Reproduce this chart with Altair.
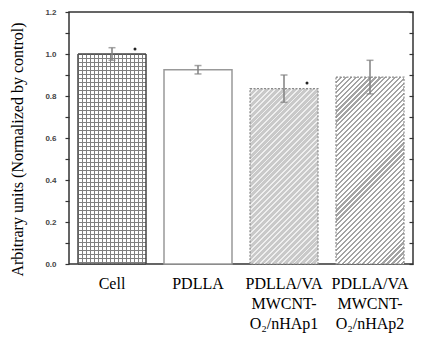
import math
import altair as alt
import pandas as pd

# ---- data ----
categories = ["Cell", "PDLLA", "PDLLA/VA|MWCNT-|O₂/nHAp1", "PDLLA/VA|MWCNT-|O₂/nHAp2"]
values = [1.0, 0.925, 0.835, 0.89]
errors = [0.03, 0.02, 0.065, 0.08]
star_cats = ["Cell", "PDLLA/VA|MWCNT-|O₂/nHAp1"]
star_y = [1.024, 0.862]
y_ticks = [round(i * 0.1, 1) for i in range(13)]

df = pd.DataFrame({"cat": categories, "val": values, "err": errors})
df["lo"] = df["val"] - df["err"]
df["hi"] = df["val"] + df["err"]
stars = pd.DataFrame({"cat": star_cats, "y": star_y})

# ---- layout / style ----
W, H = 344, 252
YMAX = 1.2
PX = H / YMAX
STEP = W / 4
BAR_W = 68
P_IN = (STEP - BAR_W) / STEP
P_OUT = 9 / STEP
SERIF = "Liberation Serif, Times New Roman, Times, serif"
SANS = "Liberation Sans, Arial, sans-serif"
SEG = 0.3  # hatch fill drawn in slices so the gradient stays crisp


def stripe_stops(bg, fg, period_t, width_t):
    stops = []
    t = 0.0
    while t < 1.0:
        a = t
        b = min(t + width_t, 1.0)
        c = min(t + period_t, 1.0)
        stops += [{"offset": a, "color": fg}, {"offset": b, "color": fg},
                  {"offset": b, "color": bg}, {"offset": c, "color": bg}]
        t += period_t
    return stops


def diag_segment_gradient(bg, fg, y0, y1, period_px, width_px, k=1.25):
    h = (y1 - y0) * PX
    top = (YMAX - y1) * PX
    r = BAR_W / h
    D = h * k * (1 + r * r)
    Q = math.sqrt(2) * period_px
    wq = math.sqrt(2) * width_px
    stops = [{"offset": 0, "color": bg}]
    n0 = int(math.floor(top / Q)) - 1
    n1 = int(math.ceil((top + BAR_W + h) / Q)) + 1
    for n in range(n0, n1 + 1):
        a = (n * Q - top) / D
        b = a + wq / D
        if b <= 0 or a >= 1:
            continue
        a, b = max(a, 0.0), min(b, 1.0)
        stops += [{"offset": a, "color": bg}, {"offset": a, "color": fg},
                  {"offset": b, "color": fg}, {"offset": b, "color": bg}]
    stops.append({"offset": 1, "color": bg})
    return {"gradient": "linear", "x1": 0, "y1": 0, "x2": k * r, "y2": k, "stops": stops}


x_enc = alt.X(
    "cat:N", sort=categories, title=None,
    scale=alt.Scale(domain=categories, paddingInner=P_IN, paddingOuter=P_OUT),
    axis=alt.Axis(labelExpr="split(datum.label, '|')", labelAngle=0,
                  labelFont=SERIF, labelFontSize=16, labelColor="black",
                  labelLineHeight=20, labelBaseline="top", labelPadding=11,
                  domain=False, ticks=True, tickSize=4, tickColor="#555",
                  offset=-4, grid=False),
)
y_scale = alt.Scale(domain=[0, YMAX], nice=False, zero=True)
y_left = alt.Y(
    "val:Q", scale=y_scale, title="Arbitrary units (Normalized by control)",
    axis=alt.Axis(values=y_ticks, format=".1f",
                  labelExpr="round(datum.value*10) % 2 == 0 ? datum.label : ''",
                  labelFont=SANS, labelFontSize=8, labelColor="#444",
                  labelFontWeight="bold", labelPadding=9,
                  tickSize=4, tickColor="#333", tickWidth=1.2,
                  domain=False, grid=False,
                  titleFont=SERIF, titleFontSize=16, titleFontWeight="normal",
                  titleColor="black", titleAngle=270, titleAlign="center",
                  titleBaseline="middle", titleX=-52, titleY=137),
)
y_none = alt.Y("val:Q", scale=y_scale, axis=None)

base = alt.Chart(df)


def bar_layer(cat, fill, stroke, stroke_width=1.0, dash=None, y=y_none, **extra):
    kw = dict(fill=fill, stroke=stroke, strokeWidth=stroke_width, **extra)
    if dash:
        kw["strokeDash"] = dash
    return base.transform_filter(alt.datum.cat == cat).mark_bar(**kw).encode(x=x_enc, y=y)


def hatched_layers(idx, bg, fg, period_px, width_px):
    cat, val = categories[idx], values[idx]
    out = []
    y0 = 0.0
    while y0 < val - 1e-9:
        y1 = min(y0 + SEG, val)
        seg = pd.DataFrame({"cat": [cat], "y0": [y0], "y1": [y1]})
        out.append(
            alt.Chart(seg).mark_bar(
                fill=diag_segment_gradient(bg, fg, y0, y1, period_px, width_px),
                strokeWidth=0,
            ).encode(x=x_enc, y=alt.Y("y0:Q", scale=y_scale, axis=None), y2="y1:Q")
        )
        y0 = y1
    out.append(bar_layer(cat, "#ffffff", "#8a8a8a", 1.2, [2, 1.5], fillOpacity=0))
    return out


cell_h = values[0] * PX
cell_rows = {"gradient": "linear", "x1": 0, "y1": 0, "x2": 0, "y2": 1,
             "stops": stripe_stops("#ffffff", "#808080", 4 / cell_h, 1 / cell_h)}
cell_cols = {"gradient": "linear", "x1": 0, "y1": 0, "x2": 1, "y2": 0,
             "stops": stripe_stops("rgba(255,255,255,0)", "#808080", 4 / BAR_W, 1 / BAR_W)}

layers = [
    bar_layer(categories[0], cell_rows, "#444", 1.0, y=y_left),
    bar_layer(categories[0], cell_cols, "#444", 1.0),
    bar_layer(categories[1], "#ffffff", "#999999", 1.5),
]
layers += hatched_layers(2, "#c9c9c9", "#efefef", 4.0, 1.3)
layers += hatched_layers(3, "#ffffff", "#a4a4a4", 3.5, 1.5)

rules = base.mark_rule(color="#808080", strokeWidth=1.5).encode(
    x=x_enc,
    y=alt.Y("lo:Q", scale=y_scale,
            axis=alt.Axis(orient="right", values=y_ticks, labels=False, title=None,
                          tickSize=4, tickColor="#333", tickWidth=1.2,
                          domain=False, grid=False, offset=-4)),
    y2="hi:Q",
)
cap_hi = base.mark_tick(color="#808080", thickness=1.5, size=7).encode(
    x=x_enc, y=alt.Y("hi:Q", scale=y_scale, axis=None))
cap_lo = base.mark_tick(color="#808080", thickness=1.5, size=7).encode(
    x=x_enc, y=alt.Y("lo:Q", scale=y_scale, axis=None))
dots = alt.Chart(stars).mark_circle(color="#222", size=9, opacity=1, xOffset=23).encode(
    x=x_enc, y=alt.Y("y:Q", scale=y_scale, axis=None))

chart = alt.layer(*layers, rules, cap_hi, cap_lo, dots).resolve_axis(
    y="independent"
).properties(
    width=W, height=H, autosize="none",
    padding={"left": 61, "top": 4, "right": 1, "bottom": 70},
).configure_view(stroke="#333", strokeWidth=1.5)

chart.save("out.html", embed_options={"renderer": "svg", "actions": False})
